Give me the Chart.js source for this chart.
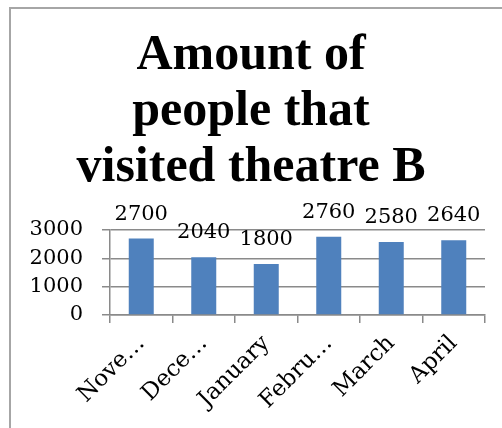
<!DOCTYPE html>
<html>
<head>
<meta charset="utf-8">
<script src="https://cdn.jsdelivr.net/npm/chart.js@4/dist/chart.umd.min.js"></script>
<style>
    body { margin: 0; background: #fff; }
    #wrap { position: relative; width: 502px; height: 428px; }
    #frame {
        position: absolute; left: 9px; top: 7px; right: -10px; bottom: -10px;
        border-left: 2px solid #a6a6a6; border-top: 2px solid #a6a6a6;
        pointer-events: none;
    }
</style>
</head>
<body>
<div id="wrap">
    <canvas id="theatreChart" width="502" height="428"></canvas>
    <div id="frame"></div>
</div>
<script>
const months = ['November', 'December', 'January', 'February', 'March', 'April'];
const tickLabels = ['Nove…', 'Dece…', 'January', 'Febru…', 'March', 'April'];
const visitors = [2700, 2040, 1800, 2760, 2580, 2640];
const yTicks = [0, 1000, 2000, 3000];
const titleLines = ['Amount of', 'people that', 'visited theatre B'];

const numFont = { family: 'DejaVu Serif', size: 21 };

// values above each bar
const valueLabels = {
    id: 'valueLabels',
    afterDatasetsDraw(chart) {
        const ctx = chart.ctx;
        const meta = chart.getDatasetMeta(0);
        ctx.save();
        ctx.font = numFont.size + 'px "' + numFont.family + '"';
        ctx.fillStyle = '#000';
        ctx.textAlign = 'center';
        ctx.textBaseline = 'alphabetic';
        meta.data.forEach((bar, i) => {
            ctx.fillText(String(visitors[i]), bar.x, bar.y - 19);
        });
        ctx.restore();
    }
};

const ctx = document.getElementById('theatreChart').getContext('2d');
const theatreChart = new Chart(ctx, {
    type: 'bar',
    data: {
        labels: months,
        datasets: [{
            data: visitors,
            backgroundColor: '#4f81bd',
            borderWidth: 0,
            categoryPercentage: 1,
            barPercentage: 0.4
        }]
    },
    options: {
        responsive: false,
        animation: false,
        layout: { padding: { left: 17, right: 17, top: 0, bottom: 0 } },
        plugins: {
            legend: { display: false },
            tooltip: { enabled: false },
            title: {
                display: true,
                text: titleLines,
                color: '#000',
                font: { family: 'Liberation Serif', size: 50, weight: 'bold', lineHeight: 56 / 50 },
                padding: { top: 28, bottom: 34 }
            }
        },
        scales: {
            x: {
                grid: {
                    drawOnChartArea: false,
                    drawTicks: true,
                    tickLength: 8,
                    color: '#8a8a8a',
                    lineWidth: 1.5
                },
                border: { color: '#8a8a8a', width: 1.5 },
                ticks: {
                    color: '#000',
                    font: { family: 'DejaVu Serif', size: 23 },
                    minRotation: 45,
                    maxRotation: 45,
                    autoSkip: false,
                    padding: 7,
                    callback: (v, i) => tickLabels[i]
                },
                afterFit: s => { s.height = 113; }
            },
            y: {
                min: yTicks[0],
                max: yTicks[yTicks.length - 1],
                grid: {
                    color: '#8a8a8a',
                    lineWidth: 1.5,
                    tickLength: 8
                },
                border: { color: '#8a8a8a', width: 1.5 },
                ticks: {
                    stepSize: 1000,
                    color: '#000',
                    font: numFont,
                    padding: 19,
                    callback: v => String(v)
                },
                afterFit: s => { s.width = 93; }
            }
        }
    },
    plugins: [valueLabels]
});
</script>
</body>
</html>
